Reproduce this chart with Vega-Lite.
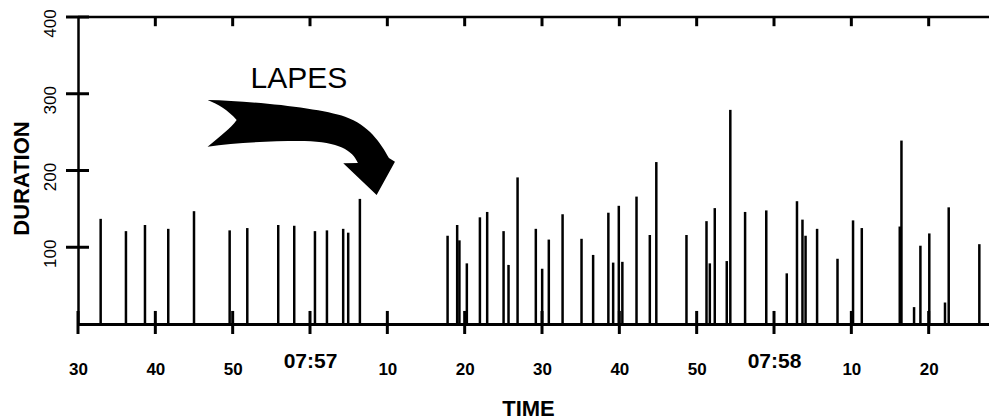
{
  "$schema": "https://vega.github.io/schema/vega-lite/v6.json",
  "width": 911,
  "height": 307,
  "autosize": {"type": "none"},
  "padding": {"left": 78, "top": 17, "right": 0, "bottom": 95},
  "background": "white",
  "config": {
    "view": {"stroke": null},
    "axis": {"labelFont": "Liberation Sans", "titleFont": "Liberation Sans", "domainColor": "black", "tickColor": "black", "labelColor": "black", "titleColor": "black", "grid": false}
  },
  "datasets": {
    "events": [
      {"t": 32.93, "d": 137}, {"t": 36.2, "d": 121}, {"t": 38.66, "d": 129}, {"t": 41.67, "d": 124}, {"t": 45.0, "d": 147},
      {"t": 49.61, "d": 122}, {"t": 51.89, "d": 125}, {"t": 55.89, "d": 129}, {"t": 57.96, "d": 128}, {"t": 60.64, "d": 121},
      {"t": 62.19, "d": 122}, {"t": 64.29, "d": 124}, {"t": 64.94, "d": 119}, {"t": 66.45, "d": 163}, {"t": 77.79, "d": 115},
      {"t": 79.03, "d": 129}, {"t": 79.32, "d": 109}, {"t": 80.28, "d": 79}, {"t": 81.97, "d": 139}, {"t": 82.91, "d": 146},
      {"t": 85.03, "d": 121}, {"t": 85.67, "d": 77}, {"t": 86.84, "d": 191}, {"t": 89.2, "d": 124}, {"t": 90.02, "d": 72},
      {"t": 90.88, "d": 110}, {"t": 92.66, "d": 143}, {"t": 95.11, "d": 111}, {"t": 96.61, "d": 90}, {"t": 98.58, "d": 145},
      {"t": 99.2, "d": 80}, {"t": 99.93, "d": 154}, {"t": 100.39, "d": 81}, {"t": 102.22, "d": 166}, {"t": 103.94, "d": 116},
      {"t": 104.78, "d": 211}, {"t": 108.68, "d": 116}, {"t": 111.27, "d": 134}, {"t": 111.7, "d": 79}, {"t": 112.34, "d": 151},
      {"t": 113.89, "d": 82}, {"t": 114.35, "d": 279}, {"t": 116.26, "d": 146}, {"t": 119.0, "d": 148}, {"t": 121.65, "d": 66},
      {"t": 122.97, "d": 160}, {"t": 123.68, "d": 136}, {"t": 124.08, "d": 115}, {"t": 125.57, "d": 124}, {"t": 128.21, "d": 85},
      {"t": 130.22, "d": 135}, {"t": 131.35, "d": 125}, {"t": 136.26, "d": 127}, {"t": 136.48, "d": 239}, {"t": 138.11, "d": 22},
      {"t": 138.93, "d": 102}, {"t": 140.08, "d": 118}, {"t": 142.11, "d": 28}, {"t": 142.59, "d": 152}, {"t": 146.55, "d": 104}
    ],
    "notes": [{"t": 58.57, "d": 307, "label": "LAPES"}],
    "arrow": [{"t": 58.83, "d": 230}],
    "frame": [{"d": 400}],
    "xticks": [{"t": 30}, {"t": 40}, {"t": 50}, {"t": 60}, {"t": 70}, {"t": 80}, {"t": 90}, {"t": 100}, {"t": 110}, {"t": 120}, {"t": 130}, {"t": 140}],
    "topticks": [{"t": 40}, {"t": 50}, {"t": 60}, {"t": 70}, {"t": 80}, {"t": 90}, {"t": 100}, {"t": 110}, {"t": 120}, {"t": 130}, {"t": 140}],
    "yticks": [{"d": 100}, {"d": 200}, {"d": 300}, {"d": 400}]
  },
  "layer": [
    {
      "data": {"name": "events"},
      "mark": {"type": "rule", "strokeWidth": 2.5, "color": "black"},
      "encoding": {
        "x": {
          "field": "t", "type": "quantitative",
          "scale": {"domain": [30, 147.8], "nice": false, "zero": false},
          "axis": {
            "orient": "bottom",
            "values": [30, 40, 50, 60, 70, 80, 90, 100, 110, 120, 130, 140],
            "tickSize": 10, "tickOpacity": 0, "domainWidth": 3,
            "labelFontSize": {"condition": {"test": "datum.value % 60 === 0", "value": 21}, "value": 17},
            "labelFontWeight": "bold",
            "labelBaseline": {"condition": {"test": "datum.value % 60 === 0", "value": "middle"}, "value": "top"},
            "labelPadding": 27,
            "labelExpr": "datum.value === 60 ? '07:57' : datum.value === 120 ? '07:58' : '' + (datum.value % 60)",
            "labelFlush": false, "labelOverlap": false,
            "title": "TIME", "titleFontSize": 22, "titleFontWeight": "bold",
            "titleX": 450, "titleY": 74, "titleBaseline": "top", "titleAlign": "center"
          }
        },
        "y": {
          "field": "d", "type": "quantitative",
          "scale": {"domain": [0, 400], "nice": false},
          "axis": {
            "orient": "left",
            "values": [100, 200, 300, 400],
            "tickSize": 11, "tickOpacity": 0, "domainWidth": 2.5,
            "labelAngle": 270, "labelAlign": "center", "labelBaseline": "bottom",
            "labelFontSize": 17, "labelPadding": 8, "labelOffset": 6, "labelFlush": false,
            "title": "DURATION", "titleFontSize": 22, "titleFontWeight": "bold",
            "titleX": -57, "titleY": 161, "titleBaseline": "middle", "titleAlign": "center", "titleAngle": 270
          }
        },
        "y2": {"datum": 0}
      }
    },
    {
      "data": {"name": "notes"},
      "mark": {"type": "text", "font": "Liberation Sans", "fontSize": 30, "align": "center", "baseline": "alphabetic", "color": "black"},
      "encoding": {
        "x": {"field": "t", "type": "quantitative"},
        "y": {"field": "d", "type": "quantitative"},
        "text": {"field": "label"}
      }
    },
    {
      "data": {"name": "arrow"},
      "mark": {
        "type": "point",
        "shape": "M-0.993,-0.505 C-0.5,-0.495 0.2,-0.42 0.47,-0.328 C0.72,-0.24 0.85,-0.05 0.936,0.112 L1.0,0.151 L0.805,0.505 L0.45,0.168 L0.606,0.165 C0.55,0.03 0.4,-0.06 0.04,-0.069 C-0.3,-0.072 -0.7,-0.05 -0.993,-0.009 C-0.85,-0.13 -0.75,-0.2 -0.684,-0.293 C-0.78,-0.4 -0.88,-0.46 -0.993,-0.505 Z",
        "size": 35344, "filled": true, "color": "black", "opacity": 1, "strokeWidth": 0
      },
      "encoding": {
        "x": {"field": "t", "type": "quantitative"},
        "y": {"field": "d", "type": "quantitative"}
      }
    },
    {
      "data": {"name": "frame"},
      "mark": {"type": "rule", "strokeWidth": 2.5, "color": "black"},
      "encoding": {"y": {"field": "d", "type": "quantitative"}}
    },
    {
      "data": {"name": "xticks"},
      "mark": {"type": "rule", "strokeWidth": 3, "color": "black"},
      "encoding": {
        "x": {"field": "t", "type": "quantitative"},
        "y": {"datum": -13},
        "y2": {"datum": 17}
      }
    },
    {
      "data": {"name": "topticks"},
      "mark": {"type": "rule", "strokeWidth": 3, "color": "black"},
      "encoding": {
        "x": {"field": "t", "type": "quantitative"},
        "y": {"datum": 400},
        "y2": {"datum": 388}
      }
    },
    {
      "data": {"name": "yticks"},
      "mark": {"type": "rule", "strokeWidth": 3, "color": "black"},
      "encoding": {
        "y": {"field": "d", "type": "quantitative"},
        "x": {"datum": 28.45},
        "x2": {"datum": 31.42}
      }
    }
  ]
}
